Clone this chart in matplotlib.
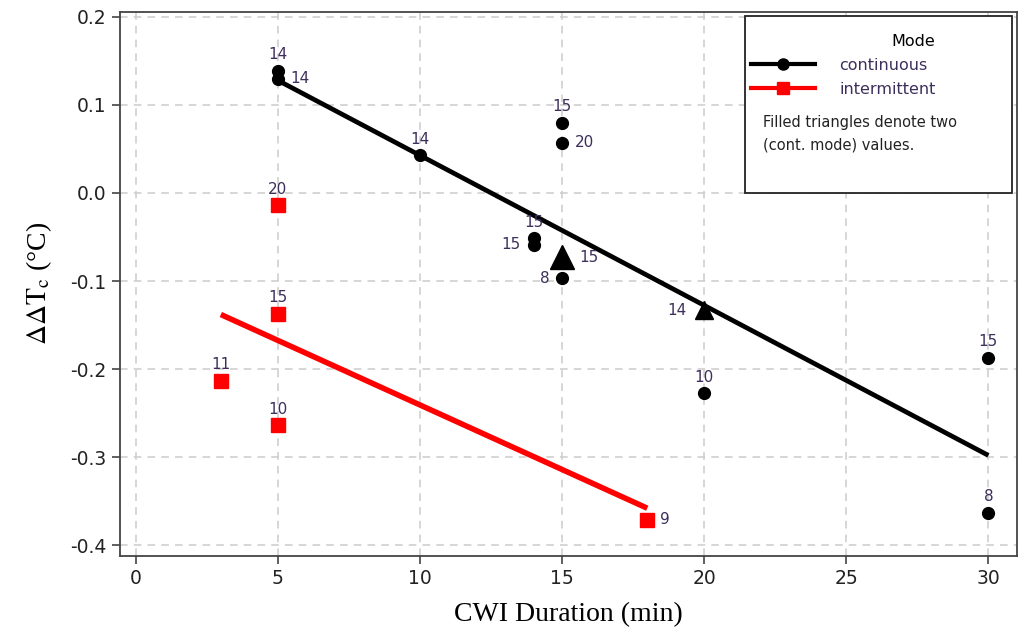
import numpy as np
import matplotlib.pyplot as plt
from matplotlib.lines import Line2D
from matplotlib.patches import Rectangle

plt.rcParams["mathtext.fontset"] = "stix"

# continuous mode, single values
cont_x = [5, 5, 10, 15, 15, 14, 14, 15, 20, 30, 30]
cont_y = [0.139, 0.130, 0.043, 0.080, 0.057, -0.051, -0.059, -0.097, -0.227, -0.187, -0.363]
cont_n = ["14", "14", "14", "15", "20", "15", "15", "8", "10", "15", "8"]

# continuous mode, two values (triangles)
tri_x = [15, 20]
tri_y = [-0.073, -0.133]
tri_n = ["15", "14"]

# intermittent mode
int_x = [5, 5, 3, 5, 18]
int_y = [-0.014, -0.137, -0.213, -0.264, -0.371]
int_n = ["20", "15", "11", "10", "9"]

# fitted lines
fit_cont_x = [5, 30]
fit_cont_y = [0.128, -0.298]
fit_int_x = [3, 18]
fit_int_y = [-0.138, -0.358]

y_ticks = [-0.4, -0.3, -0.2, -0.1, 0.0, 0.1, 0.2]

# where each count label sits relative to its marker
side_cont = ["top", "right", "top", "top", "right", "top", "left", "left", "top", "top", "top"]
side_tri = ["right", "left"]
side_int = ["top", "top", "top", "top", "right"]

offsets = {"top": (0, 6), "right": (9, 0), "left": (-9, 0)}
aligns = {"top": ("center", "bottom"), "right": ("left", "center"), "left": ("right", "center")}
label_color = "#3d2f5c"

fig = plt.figure(figsize=(10.25, 6.44), dpi=100)
ax = fig.add_axes([0.117, 0.137, 0.875, 0.845])

ax.plot(fit_cont_x, fit_cont_y, color="black", lw=3.4, solid_capstyle="butt", zorder=2)
ax.plot(fit_int_x, fit_int_y, color="red", lw=4, solid_capstyle="butt", zorder=2)

ax.plot(cont_x, cont_y, "o", color="black", ms=8.5, ls="none", zorder=3)
ax.plot(tri_x[:1], tri_y[:1], "^", color="black", ms=17, ls="none", zorder=3)
ax.plot(tri_x[1:], tri_y[1:], "^", color="black", ms=13, ls="none", zorder=3)
ax.plot(int_x, int_y, "s", color="red", ms=10, ls="none", zorder=3)


def put_labels(xs, ys, ns, sides, pad=1.0):
    for x, y, n, s in zip(xs, ys, ns, sides):
        dx, dy = offsets[s]
        ha, va = aligns[s]
        ax.annotate(n, (x, y), xytext=(dx * pad, dy * pad), textcoords="offset points",
                    ha=ha, va=va, fontsize=11, color=label_color, zorder=4)


put_labels(cont_x, cont_y, cont_n, side_cont)
put_labels(tri_x, tri_y, tri_n, side_tri, pad=1.4)
put_labels(int_x, int_y, int_n, side_int)

ax.set_xlim(-0.55, 31.0)
ax.set_ylim(-0.412, 0.206)
ax.set_xticks(range(0, 31, 5))
ax.set_yticks(y_ticks)
ax.set_yticklabels([f"{v:.1f}" for v in y_ticks])
ax.grid(True, ls=(0, (5, 4)), color="#cccccc", lw=1.1)
ax.set_axisbelow(True)

for sp in ax.spines.values():
    sp.set_color("#444444")
    sp.set_linewidth(1.3)
ax.tick_params(axis="both", direction="out", length=6, width=1.2, color="#444444",
               labelcolor="#222222", labelsize=13.5)

serif = ["Liberation Serif", "DejaVu Serif"]
ax.set_xlabel("CWI Duration (min)", family=serif, fontsize=20, labelpad=10)
ax.set_ylabel(r"$\Delta\Delta\mathrm{T_c}$ (°C)", family=serif, fontsize=20, labelpad=12)

# legend box
ax.add_patch(Rectangle((0.697, 0.667), 0.298, 0.324, transform=ax.transAxes,
                       facecolor="white", edgecolor="#222222", lw=1.3, zorder=5))
handles = [Line2D([], [], color="black", lw=3, marker="o", ms=8),
           Line2D([], [], color="red", lw=3, marker="s", ms=8)]
leg = ax.legend(handles, ["continuous", "intermittent"], title="Mode",
                loc="upper left", bbox_to_anchor=(0.688, 0.985), frameon=False,
                fontsize=11.5, title_fontsize=11.5, handlelength=4.0,
                handletextpad=1.5, labelspacing=0.55)
leg.set_zorder(6)
leg._legend_box.align = "right"
for t in leg.get_texts():
    t.set_color(label_color)
ax.text(0.717, 0.775, "Filled triangles denote two\n(cont. mode) values.",
        transform=ax.transAxes, fontsize=10.5, color="#222222", va="center",
        linespacing=1.6, zorder=7)

fig.savefig("out.png", dpi=100)
